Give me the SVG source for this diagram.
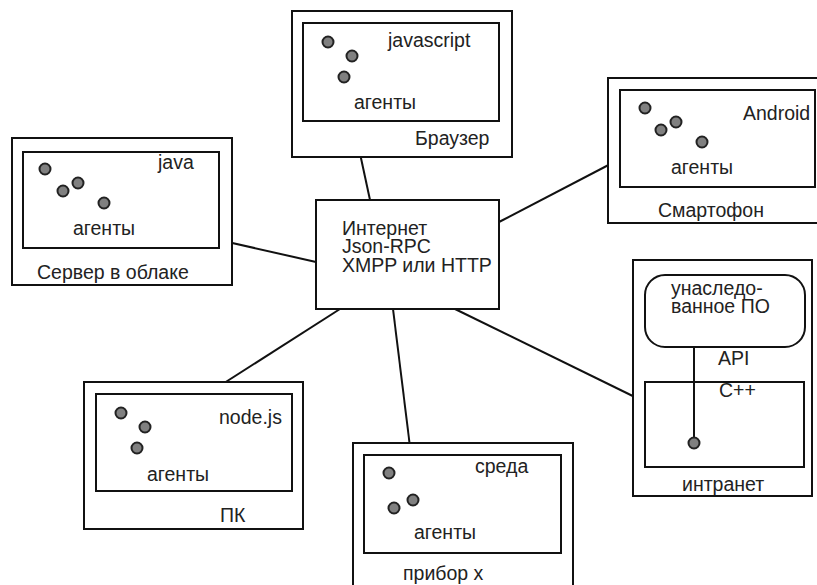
<svg xmlns="http://www.w3.org/2000/svg" width="817" height="585" viewBox="0 0 817 585">
  <style>
    .box { fill: #fff; stroke: #111; stroke-width: 2; }
    .rbox { fill: #fff; stroke: #111; stroke-width: 2; }
    .link { stroke: #111; stroke-width: 2; fill: none; }
    .agent { fill: #808080; stroke: #222; stroke-width: 2; }
    text { font-family: "Liberation Sans", Arial, sans-serif; font-size: 19.5px; fill: #222; }
  </style>
  <rect width="817" height="585" fill="#fff"/>

  <!-- connectors from the hub to each host -->
  <g id="connectors">
    <line class="link" x1="353" y1="121" x2="370" y2="200"/>
    <line class="link" x1="219" y1="240" x2="316" y2="262"/>
    <line class="link" x1="499" y1="222" x2="620" y2="159"/>
    <line class="link" x1="340" y1="309" x2="207" y2="394"/>
    <line class="link" x1="393" y1="309" x2="411" y2="455"/>
    <line class="link" x1="455" y1="309" x2="645" y2="402"/>
  </g>

  <!-- central hub -->
  <g id="internet">
    <rect class="box" x="316" y="200" width="183" height="109"/>
    <text x="342" y="235">Интернет</text>
    <text x="342" y="253">Json-RPC</text>
    <text x="342" y="272">XMPP или HTTP</text>
  </g>

  <g id="browser">
    <rect class="box" x="292" y="11" width="220" height="146"/>
    <rect class="box" x="303" y="23" width="196" height="98"/>
    <circle class="agent" cx="328" cy="42" r="5.5"/>
    <circle class="agent" cx="352" cy="56" r="5.5"/>
    <circle class="agent" cx="344" cy="77" r="5.5"/>
    <text x="388" y="47">javascript</text>
    <text x="354" y="109">агенты</text>
    <text x="415" y="145">Браузер</text>
  </g>

  <g id="cloud-server">
    <rect class="box" x="12" y="138" width="220" height="147"/>
    <rect class="box" x="23" y="152" width="196" height="96"/>
    <circle class="agent" cx="45" cy="169" r="5.5"/>
    <circle class="agent" cx="63" cy="191" r="5.5"/>
    <circle class="agent" cx="78" cy="183" r="5.5"/>
    <circle class="agent" cx="104" cy="203" r="5.5"/>
    <text x="158" y="169">java</text>
    <text x="73" y="235">агенты</text>
    <text x="37" y="279">Сервер в облаке</text>
  </g>

  <g id="smartphone">
    <rect class="box" x="608" y="78" width="220" height="145"/>
    <rect class="box" x="620" y="90" width="195" height="97"/>
    <circle class="agent" cx="645" cy="108" r="5.5"/>
    <circle class="agent" cx="661" cy="130" r="5.5"/>
    <circle class="agent" cx="676" cy="122" r="5.5"/>
    <circle class="agent" cx="702" cy="142" r="5.5"/>
    <text x="743" y="120">Android</text>
    <text x="671" y="174">агенты</text>
    <text x="658" y="217">Смартофон</text>
  </g>

  <g id="intranet">
    <rect class="box" x="633" y="260" width="179" height="236"/>
    <rect class="rbox" x="645" y="275" width="160" height="72" rx="20" ry="20"/>
    <text x="671" y="295">унаследо-</text>
    <text x="671" y="313">ванное ПО</text>
    <text x="718" y="365">API</text>
    <rect class="box" x="645" y="382" width="159" height="85"/>
    <text x="719" y="397">C++</text>
    <line class="link" x1="694" y1="347" x2="694" y2="443"/>
    <circle class="agent" cx="694" cy="443" r="5.5"/>
    <text x="682" y="491">интранет</text>
  </g>

  <g id="pc">
    <rect class="box" x="84" y="382" width="219" height="147"/>
    <rect class="box" x="96" y="394" width="196" height="97"/>
    <circle class="agent" cx="121" cy="413" r="5.5"/>
    <circle class="agent" cx="145" cy="427" r="5.5"/>
    <circle class="agent" cx="137" cy="448" r="5.5"/>
    <text x="219" y="424">node.js</text>
    <text x="147" y="481">агенты</text>
    <text x="220" y="522">ПК</text>
  </g>

  <g id="device-x">
    <rect class="box" x="353" y="443" width="220" height="160"/>
    <rect class="box" x="364" y="455" width="197" height="98"/>
    <circle class="agent" cx="389" cy="473" r="5.5"/>
    <circle class="agent" cx="394" cy="508" r="5.5"/>
    <circle class="agent" cx="413" cy="500" r="5.5"/>
    <text x="475" y="473">среда</text>
    <text x="414" y="539">агенты</text>
    <text x="403" y="580">прибор х</text>
  </g>
</svg>
